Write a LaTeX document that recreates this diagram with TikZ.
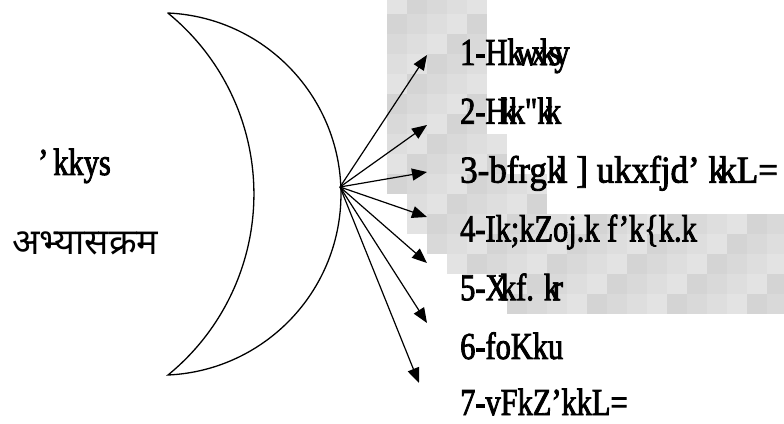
\documentclass[tikz,border=0pt]{standalone}
\usepackage{fontspec}
\setmainfont{Liberation Serif}
\newfontfamily\kruti[FakeStretch=0.8,FakeBold=2.2]{Liberation Serif}
\newfontfamily\krutiw[FakeStretch=0.92,FakeBold=2.2]{Liberation Serif}
\newfontfamily\deva[Script=Devanagari]{Noto Sans}
\usetikzlibrary{arrows.meta}
% letters that run into one another
\newcommand\ov{\kern-6.5pt}

\begin{document}
\begin{tikzpicture}[x=1pt,y=1pt,
  lbl/.style={anchor=base west,inner sep=0pt,font={\kruti\fontsize{38}{40}\selectfont}},
  pfeil/.style={-{Triangle[length=15pt,width=12pt]},line width=1.2pt}]
\useasboundingbox (0,0) rectangle (784,423);

% grey checkered patch behind the list
\foreach \j/\a/\b in {0/0/4,1/0/4,2/0/4,3/0/4,4/0/4,5/0/4,6/0/4,7/0/5,8/0/5,
                      9/0/7,10/1/7,11/1/19,12/2/19,13/3/19,14/6/19,15/6/19}
  \foreach \i in {\a,...,\b} {
    \pgfmathtruncatemacro\tone{11+2*mod(7*\i+3*\j,4)}
    \fill[black!\tone] (387+20*\i,429-20*\j) rectangle ++(20,-20);
  }

% crescent
\draw[line width=1.3pt] (168,410) arc[start angle=87.4,end angle=-87.4,radius=181.2]
  arc[start angle=-50.8,end angle=50.8,radius=233.5] -- cycle;
\coordinate (hub) at (340,236);

% left titles
\node[lbl] (kkys) at (38,248) {’\kern5pt kkys};
\node[anchor=base west,inner sep=0pt,font={\deva\fontsize{36}{40}\selectfont}] (abhyas) at (12,168) {अभ्यासक्रम};

% list
\node[lbl] (l1) at (460,358) {1-Hk\ov w\ov x\ov k\ov s\ov y};
\node[lbl] (l2) at (460,299.2) {2-H\ov k\ov k"k\ov k};
\node[lbl,font={\krutiw\fontsize{38}{40}\selectfont}] (l3) at (460,240.4) {3-bfrgk\ov l ] ukxfjd’ k\ov kL=};
\node[lbl] (l4) at (460,181.6) {4-Ik;kZoj.k f’k\{k.k};
\node[lbl] (l5) at (460,122.8) {5-X\ov kf. k\ov r};
\node[lbl] (l6) at (460,64) {6-foKku};
\node[lbl] (l7) at (460,8) {7-vFkZ’kkL=};

% arrow ends
\coordinate (t1) at (427,368);
\coordinate (t2) at (427,298);
\coordinate (t3) at (427,251);
\coordinate (t4) at (427,206);
\coordinate (t5) at (427,160);
\coordinate (t6) at (427,100);
\coordinate (t7) at (419,40);

\foreach \t in {t1,t2,t3,t4,t5,t6,t7}
  \draw[pfeil] (hub) -- (\t);

\end{tikzpicture}
\end{document}
